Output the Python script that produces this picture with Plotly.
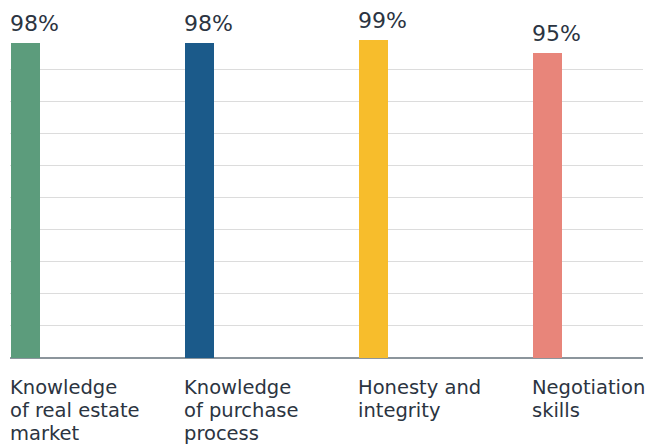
import plotly.graph_objects as go

categories = ["Knowledge<br>of real estate<br>market",
              "Knowledge<br>of purchase<br>process",
              "Honesty and<br>integrity",
              "Negotiation<br>skills"]
values = [98, 98, 99, 95]
value_labels = ["98%", "98%", "99%", "95%"]
colors = ["#5c9c7c", "#1b5a8a", "#f7bd2c", "#e8857a"]

positions = list(range(len(categories)))
FONT = "DejaVu Sans"
TEXT_COLOR = "#2b3441"
LINE_PITCH = 23

fig = go.Figure()
fig.add_trace(go.Bar(
    x=positions, y=values, width=0.167, offset=0,
    marker=dict(color=colors, line=dict(width=0)),
    hoverinfo="skip",
))

annotations = []
for xi, v, lab in zip(positions, values, value_labels):
    annotations.append(dict(
        x=xi, y=v, xref="x", yref="y", text=lab, showarrow=False,
        xanchor="left", yanchor="bottom", xshift=-3, yshift=5,
        font=dict(family=FONT, size=22, color=TEXT_COLOR),
    ))

for xi, cat in zip(positions, categories):
    for k, line in enumerate(cat.split("<br>")):
        annotations.append(dict(
            x=xi, y=0, xref="x", yref="y", text=line, showarrow=False,
            xanchor="left", yanchor="top", xshift=-3,
            yshift=-16 - LINE_PITCH * k,
            font=dict(family=FONT, size=19.5, color=TEXT_COLOR),
        ))

fig.update_layout(
    width=653, height=445,
    margin=dict(l=10, r=10, t=37, b=87),
    paper_bgcolor="white", plot_bgcolor="white",
    showlegend=False,
    annotations=annotations,
    xaxis=dict(range=[-0.006, 3.63], showticklabels=False, showgrid=False,
               zeroline=False, showline=False, ticks=""),
    yaxis=dict(range=[0, 100], dtick=10, showticklabels=False, showgrid=True,
               gridcolor="#dcdcdc", gridwidth=1, zeroline=True,
               zerolinecolor="#8c959c", zerolinewidth=1.5, showline=False, ticks=""),
    bargap=0,
)

fig.write_html("out.html")
